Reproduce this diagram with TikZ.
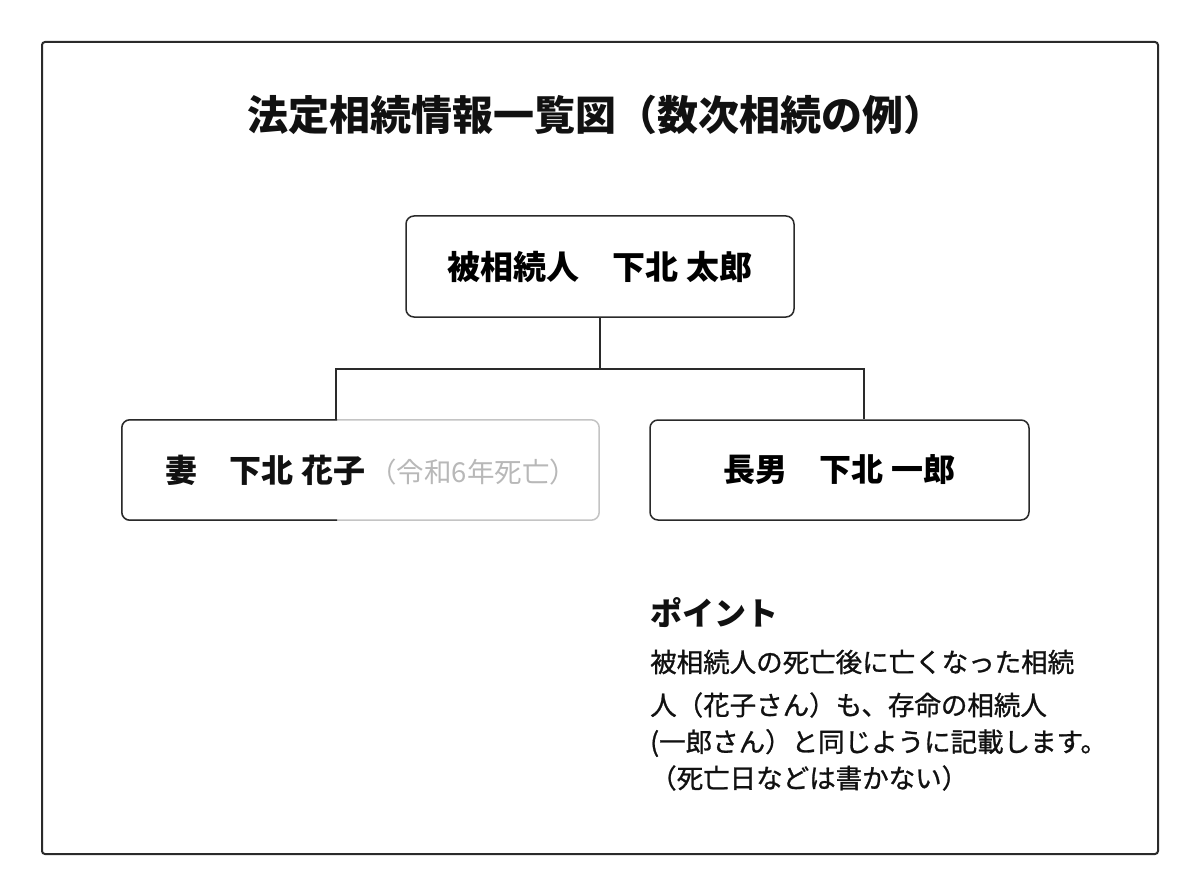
\documentclass[tikz,border=0pt]{standalone}
\usepackage{fontspec}
\setmainfont{Noto Sans CJK JP}
\newfontfamily\jpmed[FakeBold=1.0]{Noto Sans CJK JP}
\definecolor{ink}{HTML}{111111}
\definecolor{frame}{HTML}{2A2A2A}
\definecolor{lightgrey}{HTML}{C4C4C4}
\definecolor{greytext}{HTML}{B8B8B8}
\begin{document}
\begin{tikzpicture}[x=1pt,y=-1pt,
  boxline/.style={draw=frame, line width=1.5pt, rounded corners=8pt},
  personbox/.style={boxline, minimum height=101pt, inner sep=0pt},
  conn/.style={draw=frame, line width=1.5pt},
  label/.style={inner sep=0pt, text=ink},
  bodyline/.style={inner sep=0pt, anchor=west, text=ink, font=\jpmed\fontsize{26.5}{30}\selectfont}]
\fill[white] (0,0) rectangle (1200,896);
\useasboundingbox (0,0) rectangle (1200,896);
\draw[draw=frame, line width=2pt, rounded corners=3pt] (42,42) rectangle (1158,854);

\node[label, font=\fontsize{41}{46}\selectfont\bfseries] (title) at (596,115) {法定相続情報一覧図（数次相続の例）};

\node[personbox, minimum width=388pt, font=\fontsize{33}{36}\selectfont\bfseries] (top) at (600,266.5) {被相続人　下北 太郎};

\node[inner sep=0pt, minimum width=477pt, minimum height=100pt] (wife) at (360.5,470) {};
\draw[draw=lightgrey, line width=1.5pt, rounded corners=8pt] (wife.north west) rectangle (wife.south east);
\begin{scope}
\clip (0,0) rectangle (337,896);
\draw[boxline] (wife.north west) rectangle (wife.south east);
\end{scope}
\node[label, font=\fontsize{32}{36}\selectfont\bfseries] (wifetext) at (371.5,470) {妻　下北 花子\hspace{4pt}{\mdseries\fontsize{27.5}{32}\selectfont\color{greytext}（令和6年死亡）}};

\node[personbox, minimum width=379pt, minimum height=100pt, font=\fontsize{32}{36}\selectfont\bfseries] (son) at (839.5,470) {長男　下北 一郎};

\coordinate (jn) at (600,369);
\coordinate (wt) at ([xshift=-24.5pt]wife.north);
\coordinate (st) at ([xshift=24.5pt]son.north);
\draw[conn] (top.south) -- (jn);
\draw[conn] (wt) |- (jn) -| (st);

\node[label, anchor=west, font=\fontsize{32}{36}\selectfont\bfseries] (point) at (650,613) {ポイント};
\node[bodyline] (l1) at (650,662) {被相続人の死亡後に亡くなった相続};
\node[bodyline] (l2) at (650,705) {人（花子さん）も、存命の相続人};
\node[bodyline] (l3) at (650,743) {(一郎さん）と同じように記載します。};
\node[bodyline] (l4) at (650,778) {（死亡日などは書かない）};
\end{tikzpicture}
\end{document}
